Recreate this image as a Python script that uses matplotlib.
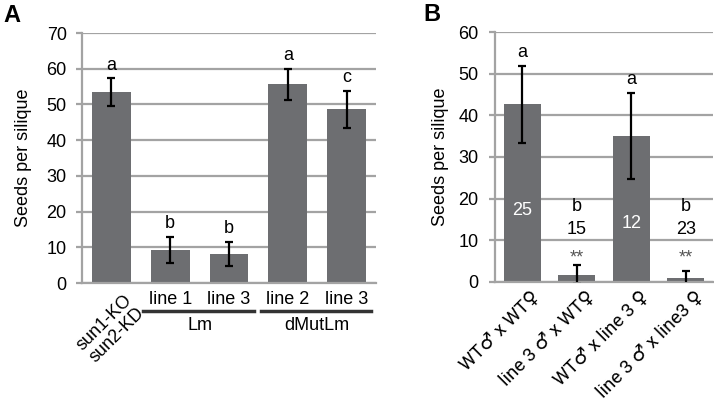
import matplotlib
matplotlib.use("Agg")
import matplotlib.pyplot as plt
import matplotlib.transforms as mtransforms

plt.rcParams['font.family'] = ['Liberation Sans', 'DejaVu Sans']

# Panel A data
a_names = ['sun1-KO\nsun2-KD', 'line 1', 'line 3', 'line 2', 'line 3']
a_means = [53.4, 9.3, 8.2, 55.6, 48.7]
a_err = [3.9, 3.7, 3.4, 4.3, 5.2]
a_letters = ['a', 'b', 'b', 'a', 'c']
a_groups = [('Lm', 1, 2), ('dMutLm', 3, 4)]

# Panel B data
b_names = ['WT♂ x WT♀', 'line 3 ♂ x WT♀', 'WT♂ x line 3 ♀', 'line 3 ♂ x line3 ♀']
b_means = [42.7, 1.7, 35.1, 0.8]
b_err = [9.3, 2.2, 10.4, 1.8]
b_letters = ['a', 'b', 'a', 'b']
b_n = ['25', '15', '12', '23']
b_stars = ['', '**', '', '**']

bar_col = '#6d6e71'
grid_col = '#a3a3a3'
fs = 13


def style_axes(ax, ymax, step):
    ax.set_ylim(0, ymax)
    ax.set_yticks(range(0, ymax + 1, step))
    ax.yaxis.grid(True, color=grid_col, lw=1.6)
    ax.set_axisbelow(True)
    for s in ['top', 'right']:
        ax.spines[s].set_visible(False)
    for s in ['left', 'bottom']:
        ax.spines[s].set_color(grid_col)
        ax.spines[s].set_linewidth(1.6)
    ax.tick_params(axis='y', length=4, width=1.6, color=grid_col, labelsize=fs, pad=7)
    ax.tick_params(axis='x', length=0, labelsize=fs)


fig = plt.figure(figsize=(7.14, 4.08), dpi=100)

# ---- A ----
axA = fig.add_axes([82 / 714, 1 - 283 / 408, 294 / 714, 250 / 408])
xa = list(range(len(a_means)))
axA.bar(xa, a_means, width=0.66, color=bar_col, zorder=2)
axA.errorbar(xa, a_means, yerr=a_err, fmt='none', ecolor='black',
             elinewidth=1.6, capsize=3, capthick=1.6, zorder=3)
axA.set_xlim(-0.5, len(a_means) - 0.5)
style_axes(axA, 70, 10)
axA.tick_params(axis='x', pad=6)
for x, m, e, t in zip(xa, a_means, a_err, a_letters):
    axA.text(x, m + e + 1.3, t, ha='center', va='bottom', fontsize=fs)
axA.set_xticks(xa)
axA.set_xticklabels([''] + a_names[1:])
trA = mtransforms.blended_transform_factory(axA.transData, axA.transAxes)
# first category: two genotypes, slanted
axA.text(0.2, -0.035, a_names[0], rotation=45, ha='right', va='top',
         rotation_mode='anchor', multialignment='right', linespacing=1.05,
         fontsize=fs, transform=trA)
for name, i0, i1 in a_groups:
    axA.plot([i0 - 0.46, i1 + 0.42], [-0.112, -0.112], color='#333333', lw=2.5,
             transform=trA, clip_on=False)
    axA.text((i0 + i1) / 2, -0.17, name, ha='center', va='center', fontsize=fs,
             transform=trA)
axA.set_ylabel('Seeds per silique', fontsize=fs)
axA.yaxis.set_label_coords(-0.17, 0.5)

# ---- B ----
axB = fig.add_axes([495 / 714, 1 - 281.7 / 408, 218 / 714, 249.4 / 408])
xb = list(range(len(b_means)))
axB.bar(xb, b_means, width=0.68, color=bar_col, zorder=2)
axB.errorbar(xb, b_means, yerr=b_err, fmt='none', ecolor='black',
             elinewidth=1.6, capsize=3, capthick=1.6, zorder=3)
axB.set_xlim(-0.5, len(b_means) - 0.5)
style_axes(axB, 60, 10)
axB.tick_params(axis='y', pad=8)
for x, m, e, t, n, s in zip(xb, b_means, b_err, b_letters, b_n, b_stars):
    if s:
        axB.text(x, 5.8, s, ha='center', va='center', fontsize=fs, color='#555555')
        axB.text(x, 12.6, n, ha='center', va='center', fontsize=fs)
        axB.text(x, 18.0, t, ha='center', va='center', fontsize=fs)
    else:
        axB.text(x, m + e + 1.2, t, ha='center', va='bottom', fontsize=fs)
        axB.text(x, m * 0.4, n, ha='center', va='center', fontsize=fs, color='white')
axB.set_xticks(xb)
axB.set_xticklabels(b_names, rotation=45, ha='right', va='top',
                    rotation_mode='anchor', family=['Roboto', 'DejaVu Sans'],
                    fontsize=13.5)
axB.tick_params(axis='x', pad=3)
# nudge slanted labels a little to the right, as in the original
shift = mtransforms.ScaledTranslation(6 / 72, -1 / 72, fig.dpi_scale_trans)
for lab in axB.get_xticklabels():
    lab.set_transform(lab.get_transform() + shift)
axB.set_ylabel('Seeds per silique', fontsize=fs)
axB.yaxis.set_label_coords(-0.21, 0.5)

fig.text(3 / 714, 1 - 4 / 408, 'A', fontsize=17, fontweight='bold', va='top', ha='left')
fig.text(423 / 714, 1 - 3 / 408, 'B', fontsize=17, fontweight='bold', va='top', ha='left')

fig.savefig('out.png', dpi=100)
